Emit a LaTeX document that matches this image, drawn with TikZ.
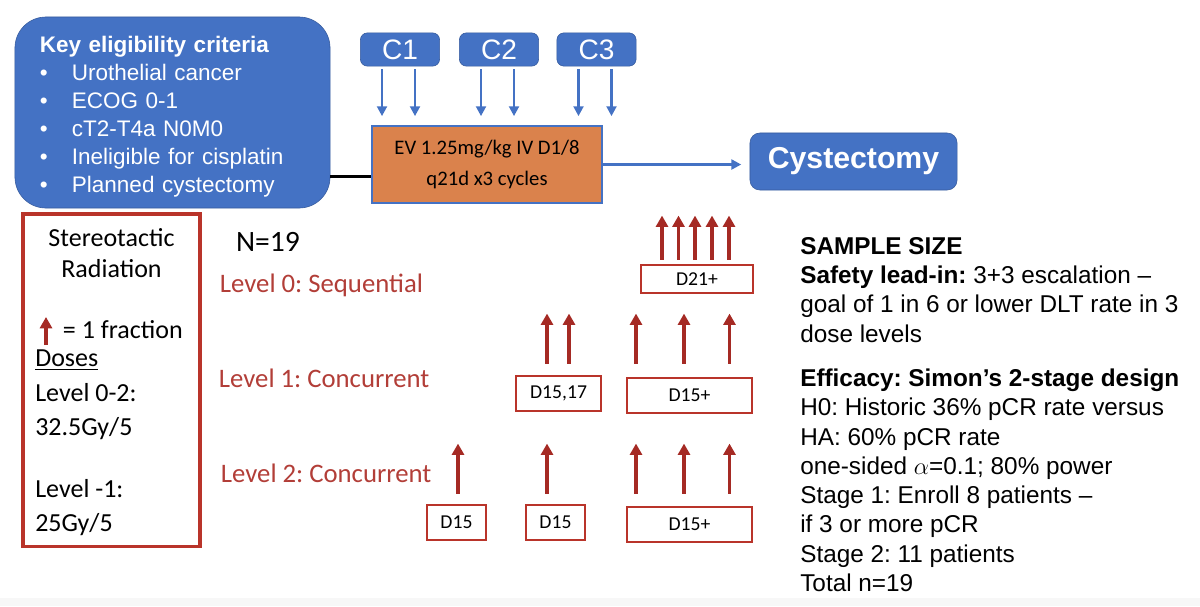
\documentclass[tikz,border=0pt]{standalone}
\usepackage{fontspec}
\setmainfont{Liberation Sans}
\newfontfamily\calibri{Carlito}
\usepackage{tikz}
\usetikzlibrary{
  arrows.meta,
  positioning,
  calc
}
\usepackage{xcolor}
\definecolor{evblue}{RGB}{68,114,196}
\definecolor{evorange}{RGB}{218,130,76}
\definecolor{sbrtred}{RGB}{185,52,42}
\definecolor{fracred}{RGB}{165,42,36}
\definecolor{levelred}{RGB}{178,62,56}
\frenchspacing

\begin{document}
\begin{tikzpicture}[x=0.025cm, y=-0.025cm,
  bluebox/.style={rectangle, rounded corners=#1, fill=evblue, draw=evblue!80!black,
                  text=white, inner sep=0pt},
  cbox/.style={bluebox=5pt, minimum width=1.98cm, minimum height=0.83cm,
               font=\fontsize{20}{22}\selectfont},
  dbox/.style={rectangle, draw=sbrtred, line width=2pt, inner sep=0pt,
               font=\calibri\fontsize{14}{16}\selectfont},
  feed/.style={-{Triangle[length=7pt, width=7pt]}, line width=1.7pt, color=evblue},
  fraction/.style={-{Triangle[length=8pt, width=8.5pt]}, line width=2.8pt, color=fracred},
  levtext/.style={anchor=west, text=levelred, font=\calibri\fontsize{19}{23}\selectfont}
]
  \useasboundingbox (0,0) rectangle (1200,606);
  \fill[black!3] (0,598) rectangle (1200,606);

  % Eligibility and treatment flow
  \node[bluebox=22pt, minimum height=4.775cm, text width=6.625cm, inner xsep=0.625cm,
        align=left, font=\fontsize{16}{19.9}\selectfont] (elig) at (172.5,112.5)
    {\rule{0pt}{17pt}\textbf{Key eligibility criteria}\\
     \makebox[0.8cm][l]{\textbullet}Urothelial cancer\\
     \makebox[0.8cm][l]{\textbullet}ECOG 0-1\\
     \makebox[0.8cm][l]{\textbullet}cT2-T4a N0M0\\
     \makebox[0.8cm][l]{\textbullet}Ineligible for cisplatin\\
     \makebox[0.8cm][l]{\textbullet}Planned cystectomy};

  \node[rectangle, fill=evorange, draw=evblue, line width=2pt,
        minimum width=5.75cm, minimum height=1.925cm, align=center,
        font=\calibri\fontsize{14.7}{22}\selectfont] (EV) at (487,164.5)
    {EV 1.25mg/kg IV D1/8\\q21d x3 cycles};

  \node[bluebox=7pt, minimum width=5.175cm, minimum height=1.425cm,
        font=\bfseries\fontsize{21.5}{24}\selectfont] (cyst) at (853.5,161.5) {Cystectomy};

  \node[cbox] (C1) at (400,49.5) {C1};
  \node[cbox] (C2) at (499,49.5) {C2};
  \node[cbox] (C3) at (596.5,49.5) {C3};

  % Cycle doses
  \foreach \c in {C1,C2,C3}
    \foreach \dx in {-18,15}
      \draw[feed, shorten <=2pt, shorten >=6pt]
        ([shift={(\dx,0)}]\c.south) -- ([shift={(\dx,0)}]\c.south |- EV.north);

  \draw[line width=2pt] ([yshift=-0.3cm]EV.west) -- ([yshift=-0.3cm]EV.west -| elig.east);
  \draw[feed, shorten >=6pt] (EV.east) -- (EV.east -| cyst.west);

  % Radiation legend
  \node[rectangle, draw=sbrtred, line width=2.2pt, minimum width=4.425cm,
        minimum height=8.3cm] (sbrt) at (111.5,380) {};
  \node[align=center, font=\calibri\fontsize{18.5}{22}\selectfont] (sbrttitle)
    at (111.5,253) {Stereotactic\\Radiation};
  \coordinate (legtip) at (46,317);
  \coordinate (legtail) at (46,345);
  \draw[fraction, line width=2.4pt] (legtail) -- (legtip);
  \node[anchor=west, font=\calibri\fontsize{18.5}{22}\selectfont] (onefr)
    at (58,330) {= 1 fraction};
  \node[anchor=north west, align=left, inner sep=0pt,
        font=\calibri\fontsize{18.5}{24.2}\selectfont] (doses) at (35,350)
    {\underline{Doses}\\Level 0-2:\\32.5Gy/5\\[20pt]Level -1:\\25Gy/5};

  \node[font=\calibri\fontsize{21}{24}\selectfont] (nn) at (268,242) {N=19};

  % Dose levels
  \node[levtext] (lev0) at (215,285) {Level 0: Sequential};
  \node[levtext] (lev1) at (214,378) {Level 1: Concurrent};
  \node[levtext] (lev2) at (216,473) {Level 2: Concurrent};

  \node[dbox, minimum width=2.8cm, minimum height=0.7cm] (D21) at (697,279) {D21+};
  \node[dbox, minimum width=2.125cm, minimum height=0.875cm] (D1517) at (558.5,393.5) {D15,17};
  \node[dbox, minimum width=3.125cm, minimum height=0.875cm] (D15p) at (689.5,395.5) {D15+};
  \node[dbox, minimum width=1.475cm, minimum height=0.875cm] (D15a) at (456.5,522.5) {D15};
  \node[dbox, minimum width=1.475cm, minimum height=0.875cm] (D15b) at (555.5,522.5) {D15};
  \node[dbox, minimum width=3.125cm, minimum height=0.875cm] (D15q) at (689.5,524.5) {D15+};

  % Fractions
  \foreach \dx in {-35,-18.5,-2,15,32}
    \draw[fraction] ([shift={(\dx,-4)}]D21.north) -- ++(0,-44);
  \foreach \dx in {-11.5,10.5}
    \draw[fraction] ([shift={(\dx,-11)}]D1517.north) -- ++(0,-50);
  \foreach \dx in {-53.5,-5.5,40}
    \draw[fraction] ([shift={(\dx,-13)}]D15p.north) -- ++(0,-50);
  \draw[fraction] ([shift={(1.5,-10)}]D15a.north) -- ++(0,-50);
  \draw[fraction] ([shift={(-8.5,-10)}]D15b.north) -- ++(0,-50);
  \foreach \dx in {-53.5,-5.5,40}
    \draw[fraction] ([shift={(\dx,-12)}]D15q.north) -- ++(0,-50);

  % Sample size
  \node[anchor=north west, align=left, inner sep=0pt,
        font=\fontsize{17.3}{20.8}\selectfont] (sample) at (800,237)
    {\textbf{SAMPLE SIZE}\\
     \textbf{Safety lead-in:} 3+3 escalation --\\
     goal of 1 in 6 or lower DLT rate in 3\\
     dose levels\\[11pt]
     \textbf{Efficacy: Simon’s 2-stage design}\\
     H0: Historic 36\% pCR rate versus\\
     HA: 60\% pCR rate\\
     one-sided $\alpha$=0.1; 80\% power\\
     Stage 1: Enroll 8 patients --\\
     if 3 or more pCR\\
     Stage 2: 11 patients\\
     Total n=19};
\end{tikzpicture}
\end{document}
